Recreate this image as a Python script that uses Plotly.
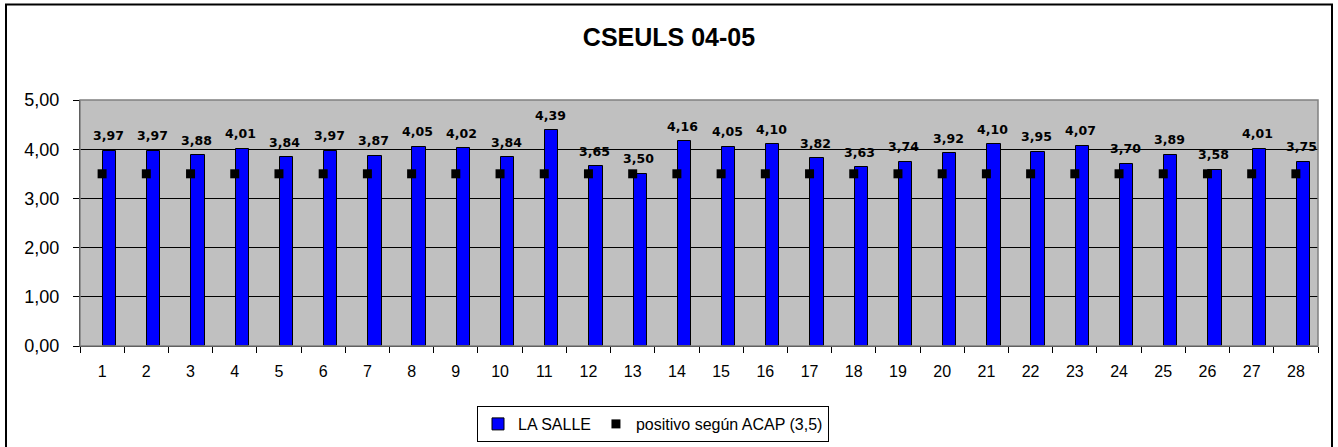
import plotly.graph_objects as go

categories = [str(i) for i in range(1, 29)]
la_salle = [3.97, 3.97, 3.88, 4.01, 3.84, 3.97, 3.87, 4.05, 4.02, 3.84,
            4.39, 3.65, 3.50, 4.16, 4.05, 4.10, 3.82, 3.63, 3.74, 3.92,
            4.10, 3.95, 4.07, 3.70, 3.89, 3.58, 4.01, 3.75]
acap = [3.5] * 28
y_ticks = [0, 1, 2, 3, 4, 5]

W, H = 1338, 447
L, R, T, B = 80, 20, 100, 101
pw, ph = W - L - R, H - T - B

def px_x(p):
    return (p - L) / pw

def px_y(p):
    return (H - B - p) / ph

FONT = "Arial, Liberation Sans, sans-serif"

fig = go.Figure()
fig.add_trace(go.Bar(
    x=categories, y=la_salle, name="LA SALLE",
    width=0.3, offset=0.02,
    marker=dict(color="#0000FF", line=dict(color="black", width=1)),
))
fig.add_trace(go.Scatter(
    x=categories, y=acap, name="positivo según ACAP (3,5)",
    mode="markers",
    marker=dict(symbol="square", size=9, color="black"),
))

for i, v in enumerate(la_salle):
    fig.add_annotation(
        x=i, y=v, text=f"{v:.2f}".replace(".", ","),
        showarrow=False, xshift=6, yshift=15, yanchor="middle",
        font=dict(family="DejaVu Sans", size=12.5, color="black", weight="bold"),
    )

# plot area top/right border (gray)
fig.add_shape(type="rect", xref="paper", yref="paper", x0=0, x1=1, y0=0, y1=1,
              line=dict(color="#808080", width=1.5), layer="above")
# outer chart frame
fig.add_shape(type="rect", xref="paper", yref="paper",
              x0=px_x(6), x1=px_x(1332), y0=px_y(449), y1=px_y(4.5),
              line=dict(color="black", width=2), layer="above")

fig.update_layout(
    width=W, height=H,
    margin=dict(l=L, r=R, t=T, b=B, autoexpand=False),
    paper_bgcolor="white", plot_bgcolor="#C0C0C0",
    separators=",.",
    title=dict(text="<b>CSEULS 04-05</b>", x=0.5, xanchor="center",
               y=1 - 37.5 / H, yanchor="middle",
               font=dict(family=FONT, size=25, color="black")),
    showlegend=True,
    legend=dict(orientation="h", x=px_x(653), xanchor="center",
                y=px_y(406), yanchor="top",
                bgcolor="white", bordercolor="black", borderwidth=1,
                font=dict(family=FONT, size=16, color="black"),
                itemwidth=30, tracegroupgap=0),
    bargap=0,
)
fig.update_xaxes(
    type="category", range=[-0.5, 27.5], automargin=False,
    showgrid=False, showline=True, linecolor="black", linewidth=1,
    ticks="outside", tickson="boundaries", ticklen=6, tickcolor="black",
    ticklabelstandoff=11,
    tickfont=dict(family=FONT, size=16, color="black"),
)
fig.update_yaxes(
    range=[0, 5], tickvals=y_ticks, tickformat=".2f", automargin=False,
    showgrid=True, gridcolor="black", gridwidth=1, zeroline=False,
    showline=True, linecolor="black", linewidth=1,
    ticks="outside", ticklen=6, tickcolor="black",
    ticklabelstandoff=10,
    tickfont=dict(family=FONT, size=18, color="black"),
)

fig.write_html("out.html", config={"displayModeBar": False},
               post_script="document.body.style.margin='0';document.body.style.overflow='hidden';")
